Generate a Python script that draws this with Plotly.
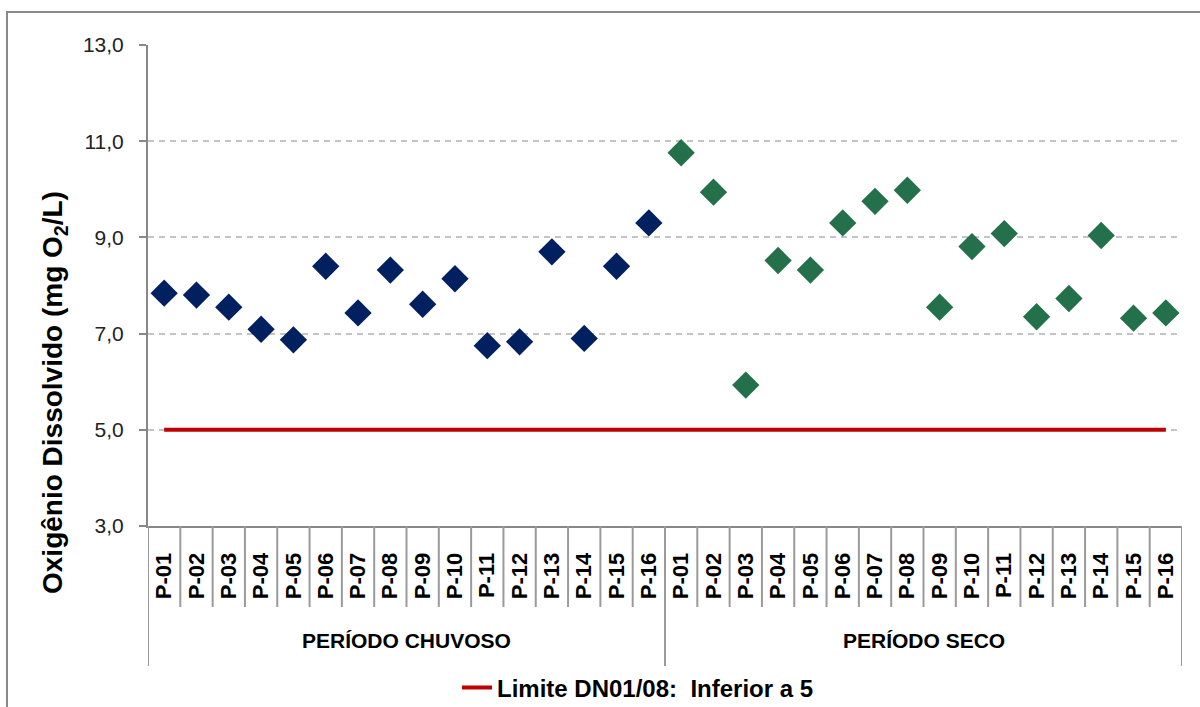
import plotly.graph_objects as go

points = ["P-01", "P-02", "P-03", "P-04", "P-05", "P-06", "P-07", "P-08",
          "P-09", "P-10", "P-11", "P-12", "P-13", "P-14", "P-15", "P-16"]
groups = ["PERÍODO CHUVOSO", "PERÍODO SECO"]
chuvoso = [7.84, 7.80, 7.55, 7.09, 6.87, 8.40, 7.43, 8.32,
           7.61, 8.14, 6.75, 6.83, 8.70, 6.90, 8.40, 9.30]
seco = [10.76, 9.94, 5.93, 8.52, 8.32, 9.30, 9.75, 9.98,
        7.55, 8.81, 9.08, 7.35, 7.73, 9.04, 7.32, 7.43]
limite = 5.0
limite_label = "Limite DN01/08:  Inferior a 5"
y_title = "Oxigênio Dissolvido (mg O<sub>2</sub>/L)"
y_ticks = [3, 5, 7, 9, 11, 13]

n = len(points)
x_all = list(range(2 * n))
ticktext = points + points
FONT = "Liberation Sans, Arial, sans-serif"

fig = go.Figure()

fig.add_trace(go.Scatter(
    x=x_all, y=[limite] * len(x_all), mode="lines",
    line=dict(color="#c00000", width=4), name=limite_label, showlegend=True,
    hoverinfo="skip"))

fig.add_trace(go.Scatter(
    x=x_all[:n], y=chuvoso, mode="markers",
    marker=dict(symbol="diamond", size=21, color="#002060"),
    showlegend=False, name=groups[0]))
fig.add_trace(go.Scatter(
    x=x_all[n:], y=seco, mode="markers",
    marker=dict(symbol="diamond", size=21, color="#24704a"),
    showlegend=False, name=groups[1]))

L, R, T, B = 148, 18, 45, 181
W, H = 1200, 707
ph = H - T - B
pw = W - L - R

def py(yabs):
    return (H - B - yabs) / ph

def px(xabs):
    return (xabs - L) / pw

shapes = []
for i in range(2 * n + 1):
    xv = i - 0.5
    long = i in (0, n, 2 * n)
    shapes.append(dict(type="line", xref="x", yref="paper", x0=xv, x1=xv,
                       y0=0, y1=py(666) if long else py(607),
                       line=dict(color="#9a9a9a", width=2)))
# outer chart border
shapes.append(dict(type="rect", xref="paper", yref="paper",
                   x0=px(7), x1=px(1215), y0=py(730), y1=py(12),
                   line=dict(color="#898989", width=2)))

annotations = []
for gi, g in enumerate(groups):
    annotations.append(dict(x=gi * n + (n - 1) / 2, y=py(640), xref="x", yref="paper",
                            text=g, showarrow=False,
                            font=dict(family=FONT, size=21, color="#000", weight="bold"),
                            xanchor="center", yanchor="middle"))
annotations.append(dict(x=px(54), y=py(393), xref="paper", yref="paper",
                        text=y_title, textangle=-90, showarrow=False,
                        font=dict(family=FONT, size=28, color="#000", weight="bold"),
                        xanchor="center", yanchor="middle"))

fig.update_layout(
    width=W, height=H,
    margin=dict(l=L, r=R, t=T, b=B, autoexpand=False),
    paper_bgcolor="white", plot_bgcolor="white",
    font=dict(family=FONT, color="#000"),
    separators=",.",
    showlegend=True,
    legend=dict(orientation="h", x=px(457), y=py(688), xanchor="left", yanchor="middle",
                font=dict(size=24, family=FONT, color="#000", weight="bold"),
                bgcolor="rgba(0,0,0,0)"),
    shapes=shapes, annotations=annotations,
)

fig.update_xaxes(
    range=[-0.5, 2 * n - 0.5], tickmode="array", tickvals=x_all, ticktext=ticktext,
    tickangle=-90, ticks="", showgrid=False, zeroline=False,
    showline=True, linecolor="#888888", linewidth=2,
    tickfont=dict(size=22, family=FONT, color="#000", weight="bold"),
    ticklabelstandoff=16, automargin=False,
)
fig.update_yaxes(
    range=[3, 13], tickmode="array", tickvals=y_ticks, tickformat=".1f",
    ticks="outside", ticklen=7, tickcolor="#888888", tickwidth=2,
    showline=True, linecolor="#888888", linewidth=2,
    showgrid=True, gridcolor="#c4c4c4", gridwidth=1.5, griddash="6px,5px",
    zeroline=False, ticklabelstandoff=11, automargin=False,
    tickfont=dict(size=21, family=FONT, color="#222"),
)

fig.write_html("out.html", config={"displayModeBar": False},
               post_script="document.body.style.margin='0';")
